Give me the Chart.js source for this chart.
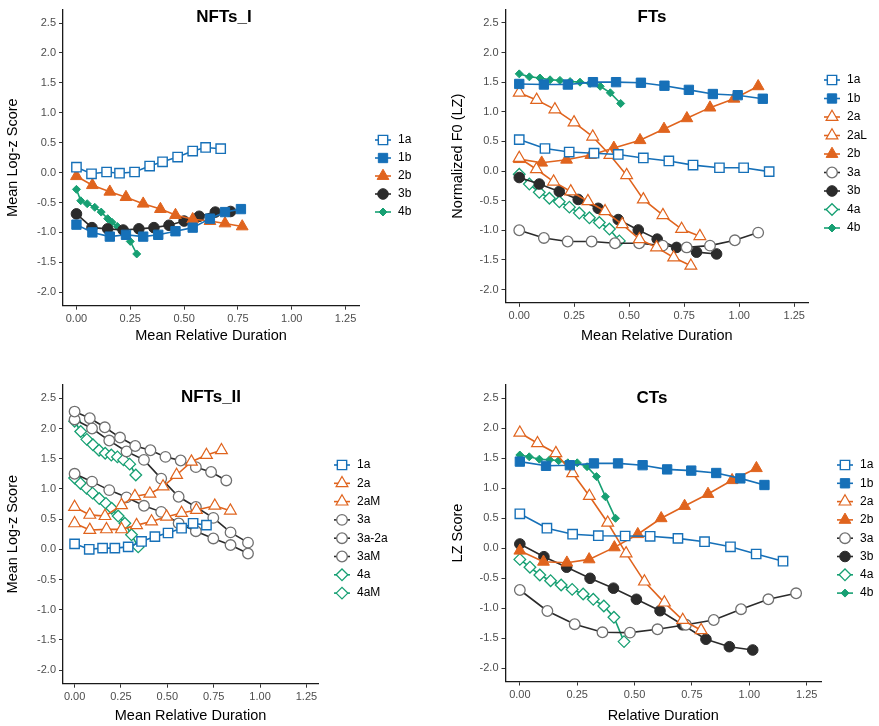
<!DOCTYPE html>
<html>
<head>
<meta charset="utf-8">
<script src="https://cdn.jsdelivr.net/npm/chart.js@4"></script>
<style>
  html, body { margin: 0; padding: 0; background: #fff; }
  #wrap { position: relative; width: 879px; height: 726px; }
  canvas { position: absolute; }
</style>
</head>
<body>
<div id="wrap">
  <canvas id="p1" width="440" height="363" style="left:0;top:0"></canvas>
  <canvas id="p2" width="439" height="363" style="left:440px;top:0"></canvas>
  <canvas id="p3" width="440" height="363" style="left:0;top:363px"></canvas>
  <canvas id="p4" width="439" height="363" style="left:440px;top:363px"></canvas>
</div>
<script>
// tick labels
const X_TICKS = [0, 0.25, 0.5, 0.75, 1.0, 1.25];
const Y_TICKS = [-2.0, -1.5, -1.0, -0.5, 0.0, 0.5, 1.0, 1.5, 2.0, 2.5];

// NFTs_I
const n1_1a_x = [0, 0.07, 0.14, 0.2, 0.27, 0.34, 0.4, 0.47, 0.54, 0.6, 0.67];
const n1_1a_y = [0.09, -0.02, 0.01, -0.01, 0.01, 0.11, 0.18, 0.26, 0.36, 0.42, 0.4];
const n1_1b_x = [0, 0.074, 0.155, 0.23, 0.31, 0.38, 0.46, 0.54, 0.62, 0.69, 0.764];
const n1_1b_y = [-0.87, -1.0, -1.07, -1.04, -1.07, -1.04, -0.98, -0.92, -0.77, -0.66, -0.61];
const n1_2b_x = [0, 0.074, 0.155, 0.23, 0.31, 0.39, 0.46, 0.54, 0.62, 0.69, 0.77];
const n1_2b_y = [-0.06, -0.21, -0.32, -0.41, -0.52, -0.61, -0.71, -0.78, -0.81, -0.85, -0.9];
const n1_3b_x = [0, 0.072, 0.145, 0.217, 0.29, 0.36, 0.43, 0.5, 0.57, 0.645, 0.716];
const n1_3b_y = [-0.69, -0.92, -0.94, -0.96, -0.94, -0.92, -0.88, -0.81, -0.73, -0.66, -0.65];
const n1_4b_x = [0, 0.02, 0.05, 0.085, 0.115, 0.145, 0.165, 0.19, 0.225, 0.25, 0.28];
const n1_4b_y = [-0.28, -0.47, -0.52, -0.58, -0.66, -0.77, -0.83, -0.9, -1.01, -1.15, -1.36];

// FTs
const f_1a_x = [0, 0.117, 0.227, 0.34, 0.45, 0.564, 0.68, 0.79, 0.91, 1.02, 1.136];
const f_1a_y = [0.53, 0.38, 0.32, 0.3, 0.28, 0.22, 0.17, 0.1, 0.055, 0.055, -0.01];
const f_1b_x = [0, 0.112, 0.221, 0.335, 0.44, 0.553, 0.66, 0.771, 0.88, 0.993, 1.107];
const f_1b_y = [1.47, 1.46, 1.46, 1.5, 1.5, 1.49, 1.44, 1.37, 1.3, 1.28, 1.22];
const f_2a_x = [0, 0.079, 0.162, 0.249, 0.334, 0.412, 0.488, 0.564, 0.653, 0.738, 0.821];
const f_2a_y = [1.32, 1.2, 1.04, 0.82, 0.58, 0.27, -0.07, -0.48, -0.745, -0.98, -1.1];
const f_2aL_x = [0, 0.078, 0.156, 0.234, 0.312, 0.39, 0.468, 0.546, 0.624, 0.702, 0.78];
const f_2aL_y = [0.22, 0.03, -0.18, -0.345, -0.51, -0.68, -0.9, -1.15, -1.29, -1.46, -1.6];
const f_2b_x = [0, 0.102, 0.215, 0.325, 0.43, 0.549, 0.658, 0.762, 0.867, 0.976, 1.086];
const f_2b_y = [0.2, 0.14, 0.19, 0.27, 0.39, 0.52, 0.71, 0.89, 1.07, 1.22, 1.43];
const f_3a_x = [0, 0.112, 0.22, 0.329, 0.435, 0.545, 0.652, 0.761, 0.867, 0.98, 1.086];
const f_3a_y = [-1.0, -1.13, -1.19, -1.19, -1.22, -1.22, -1.26, -1.29, -1.26, -1.17, -1.04];
const f_3b_x = [0, 0.091, 0.182, 0.268, 0.359, 0.45, 0.541, 0.627, 0.715, 0.806, 0.897];
const f_3b_y = [-0.11, -0.22, -0.345, -0.48, -0.63, -0.82, -0.995, -1.15, -1.29, -1.37, -1.4];
const f_4a_x = [0, 0.046, 0.091, 0.137, 0.182, 0.228, 0.273, 0.319, 0.364, 0.41, 0.455];
const f_4a_y = [-0.055, -0.22, -0.36, -0.46, -0.52, -0.61, -0.71, -0.79, -0.87, -0.98, -1.18];
const f_4b_x = [0, 0.046, 0.094, 0.14, 0.185, 0.231, 0.276, 0.322, 0.368, 0.414, 0.461];
const f_4b_y = [1.64, 1.59, 1.57, 1.54, 1.53, 1.51, 1.5, 1.48, 1.43, 1.32, 1.14];

// NFTs_II
const n2_1a_x = [0, 0.079, 0.151, 0.217, 0.289, 0.361, 0.433, 0.504, 0.577, 0.639, 0.711];
const n2_1a_y = [0.09, 0.0, 0.02, 0.02, 0.04, 0.13, 0.21, 0.27, 0.35, 0.43, 0.4];
const n2_2a_x = [0, 0.082, 0.164, 0.253, 0.325, 0.406, 0.477, 0.55, 0.63, 0.711, 0.792];
const n2_2a_y = [0.7, 0.57, 0.55, 0.73, 0.88, 0.92, 1.04, 1.23, 1.45, 1.56, 1.64];
const n2_2aM_x = [0, 0.082, 0.172, 0.253, 0.334, 0.415, 0.496, 0.577, 0.657, 0.756, 0.84];
const n2_2aM_y = [0.43, 0.32, 0.33, 0.33, 0.4, 0.46, 0.54, 0.6, 0.65, 0.72, 0.64];
const n2_3a_x = [0, 0.082, 0.163, 0.245, 0.327, 0.409, 0.49, 0.572, 0.654, 0.736, 0.818];
const n2_3a_y = [2.28, 2.17, 2.02, 1.85, 1.71, 1.64, 1.53, 1.47, 1.36, 1.28, 1.14];
const n2_3a2a_x = [0, 0.094, 0.187, 0.28, 0.374, 0.467, 0.561, 0.654, 0.748, 0.841, 0.935];
const n2_3a2a_y = [2.15, 2.0, 1.8, 1.62, 1.48, 1.17, 0.87, 0.7, 0.52, 0.28, 0.11];
const n2_3aM_x = [0, 0.094, 0.187, 0.28, 0.374, 0.467, 0.561, 0.654, 0.748, 0.841, 0.935];
const n2_3aM_y = [1.25, 1.12, 0.98, 0.86, 0.72, 0.62, 0.43, 0.3, 0.18, 0.07, -0.07];
const n2_4a_x = [0, 0.033, 0.066, 0.099, 0.132, 0.165, 0.198, 0.231, 0.264, 0.297, 0.33];
const n2_4a_y = [2.12, 1.95, 1.82, 1.73, 1.64, 1.59, 1.56, 1.53, 1.48, 1.41, 1.23];
const n2_4aM_x = [0, 0.032, 0.065, 0.097, 0.133, 0.169, 0.2, 0.235, 0.271, 0.307, 0.343];
const n2_4aM_y = [1.18, 1.09, 1.01, 0.93, 0.84, 0.76, 0.68, 0.55, 0.43, 0.24, 0.04];

// CTs
const c_1a_x = [0, 0.118, 0.23, 0.342, 0.459, 0.568, 0.689, 0.805, 0.918, 1.03, 1.147];
const c_1a_y = [0.57, 0.33, 0.23, 0.205, 0.2, 0.195, 0.16, 0.105, 0.02, -0.1, -0.22];
const c_1b_x = [0, 0.114, 0.218, 0.323, 0.428, 0.535, 0.642, 0.747, 0.856, 0.961, 1.066];
const c_1b_y = [1.44, 1.37, 1.38, 1.41, 1.41, 1.38, 1.31, 1.29, 1.25, 1.16, 1.05];
const c_2a_x = [0, 0.077, 0.157, 0.23, 0.303, 0.383, 0.463, 0.543, 0.63, 0.71, 0.79];
const c_2a_y = [1.92, 1.745, 1.58, 1.245, 0.867, 0.42, -0.09, -0.56, -0.91, -1.2, -1.37];
const c_2b_x = [0, 0.103, 0.205, 0.302, 0.412, 0.514, 0.616, 0.718, 0.82, 0.925, 1.031];
const c_2b_y = [-0.045, -0.23, -0.245, -0.19, 0.01, 0.23, 0.495, 0.7, 0.9, 1.13, 1.33];
const c_3a_x = [0, 0.12, 0.239, 0.36, 0.48, 0.6, 0.724, 0.845, 0.964, 1.083, 1.204];
const c_3a_y = [-0.7, -1.05, -1.27, -1.405, -1.41, -1.355, -1.28, -1.2, -1.02, -0.855, -0.755];
const c_3b_x = [0, 0.105, 0.204, 0.306, 0.408, 0.508, 0.611, 0.709, 0.811, 0.913, 1.015];
const c_3b_y = [0.067, -0.145, -0.32, -0.505, -0.67, -0.855, -1.045, -1.28, -1.52, -1.645, -1.7];
const c_4a_x = [0, 0.044, 0.087, 0.134, 0.18, 0.228, 0.276, 0.32, 0.366, 0.41, 0.454];
const c_4a_y = [-0.19, -0.32, -0.45, -0.545, -0.617, -0.69, -0.767, -0.855, -0.967, -1.155, -1.56];
const c_4b_x = [0, 0.041, 0.085, 0.13, 0.169, 0.209, 0.25, 0.293, 0.334, 0.373, 0.417];
const c_4b_y = [1.55, 1.52, 1.48, 1.47, 1.455, 1.42, 1.42, 1.355, 1.19, 0.855, 0.495];

const X_MIN = -0.0625;
const X_MAX = 1.3125;
const Y_MIN = -2.225;
const Y_MAX = 2.725;

const FONT_FAMILY = '"Liberation Sans", Arial, sans-serif';
const BLUE = '#1670b8';
const ORANGE = '#e0641e';
const GREEN = '#17a073';
const DARK = '#2b2b2b';
const OPEN_GREY = '#707070';

// marker look for each group, ggplot-like
const SHAPES = {
  a1: { pointStyle: 'rect', radius: 6.6, line: BLUE, fill: '#fff', edge: BLUE, edgeWidth: 1.4 },
  b1: { pointStyle: 'rect', radius: 6.6, line: BLUE, fill: BLUE, edge: BLUE, edgeWidth: 1 },
  a2: { pointStyle: 'triangle', radius: 6.8, line: ORANGE, fill: '#fff', edge: ORANGE, edgeWidth: 1.2 },
  b2: { pointStyle: 'triangle', radius: 6.8, line: ORANGE, fill: ORANGE, edge: ORANGE, edgeWidth: 1 },
  a3: { pointStyle: 'circle', radius: 5.3, line: DARK, fill: '#fff', edge: OPEN_GREY, edgeWidth: 1.3 },
  b3: { pointStyle: 'circle', radius: 5.3, line: DARK, fill: DARK, edge: DARK, edgeWidth: 1 },
  a4: { pointStyle: 'rectRot', radius: 5.8, line: GREEN, fill: '#fff', edge: GREEN, edgeWidth: 1.3 },
  b4: { pointStyle: 'rectRot', radius: 4, line: GREEN, fill: GREEN, edge: GREEN, edgeWidth: 1 },
};

const series = (label, shape, xs, ys) => {
  const s = SHAPES[shape];
  return {
    label,
    data: xs.map((x, i) => ({ x, y: ys[i] })),
    showLine: true,
    borderColor: s.line,
    borderWidth: 1.6,
    pointStyle: s.pointStyle,
    pointRadius: s.radius,
    pointHoverRadius: s.radius,
    pointBackgroundColor: s.fill,
    pointBorderColor: s.edge,
    pointBorderWidth: s.edgeWidth,
  };
};

const TICK_FONT = { family: FONT_FAMILY, size: 11 };
const AXIS_TITLE_FONT = { family: FONT_FAMILY, size: 14.5 };
const GRID = { display: true, drawOnChartArea: false, drawTicks: true, tickLength: 4, tickColor: '#333', tickWidth: 1 };
const BORDER = { display: true, color: '#1a1a1a', width: 1.3 };

// titles, and a ggplot style legend (line through the marker)
const panelDecor = {
  id: 'panelDecor',
  afterDraw(chart, args, opts) {
    const { ctx } = chart;
    ctx.save();
    ctx.font = `bold 17px ${FONT_FAMILY}`;
    ctx.fillStyle = '#000';
    ctx.textAlign = 'center';
    ctx.textBaseline = 'middle';
    ctx.fillText(opts.title, opts.titleX, opts.titleY);

    ctx.font = `12px ${FONT_FAMILY}`;
    ctx.textAlign = 'left';
    chart.data.datasets.forEach((ds, i) => {
      const y = opts.legendY + i * opts.legendStep;
      ctx.strokeStyle = ds.borderColor;
      ctx.lineWidth = ds.borderWidth;
      ctx.beginPath();
      ctx.moveTo(opts.legendX - 8, y);
      ctx.lineTo(opts.legendX + 8, y);
      ctx.stroke();
      ctx.fillStyle = ds.pointBackgroundColor;
      ctx.strokeStyle = ds.pointBorderColor;
      ctx.lineWidth = ds.pointBorderWidth;
      Chart.helpers.drawPoint(ctx, {
        pointStyle: ds.pointStyle,
        radius: ds.pointRadius,
        borderWidth: ds.pointBorderWidth,
        rotation: 0,
      }, opts.legendX, y);
      ctx.fillStyle = '#000';
      ctx.fillText(ds.label, opts.legendX + 15, y);
    });
    ctx.restore();
  },
};

const renderPanel = (elementId, datasets, cfg) => {
  const SCALES = {
    x: {
      type: 'linear',
      min: X_MIN,
      max: X_MAX,
      afterBuildTicks: (axis) => { axis.ticks = X_TICKS.map((value) => ({ value })); },
      afterFit: (axis) => { axis.height = cfg.xHeight; },
      grid: GRID,
      border: BORDER,
      ticks: {
        font: TICK_FONT,
        color: '#4d4d4d',
        padding: 3,
        maxRotation: 0,
        autoSkip: false,
        callback: (v) => Number(v).toFixed(2),
      },
      title: { display: true, text: cfg.xTitle, font: AXIS_TITLE_FONT, color: '#000', padding: 0 },
    },
    y: {
      type: 'linear',
      min: Y_MIN,
      max: Y_MAX,
      afterBuildTicks: (axis) => { axis.ticks = Y_TICKS.map((value) => ({ value })); },
      afterFit: (axis) => { axis.width = cfg.yWidth; },
      grid: GRID,
      border: BORDER,
      ticks: {
        font: TICK_FONT,
        color: '#4d4d4d',
        padding: 3,
        autoSkip: false,
        callback: (v) => Number(v).toFixed(1),
      },
      title: {
        display: true,
        text: cfg.yTitle,
        font: AXIS_TITLE_FONT,
        color: '#000',
        padding: { top: cfg.yTitlePad, bottom: 0 },
      },
    },
  };

  return new Chart(document.getElementById(elementId), {
    type: 'scatter',
    data: { datasets },
    plugins: [panelDecor],
    options: {
      responsive: false,
      animation: false,
      events: [],
      layout: { padding: { left: 0, right: cfg.padRight, top: cfg.padTop, bottom: cfg.padBottom } },
      scales: SCALES,
      plugins: {
        legend: { display: false },
        tooltip: { enabled: false },
        panelDecor: {
          title: cfg.title,
          titleX: cfg.titleX,
          titleY: cfg.titleY,
          legendX: cfg.legendX,
          legendY: cfg.legendY,
          legendStep: cfg.legendStep,
        },
      },
    },
  });
};

renderPanel('p1', [
  series('1a', 'a1', n1_1a_x, n1_1a_y),
  series('1b', 'b1', n1_1b_x, n1_1b_y),
  series('2b', 'b2', n1_2b_x, n1_2b_y),
  series('3b', 'b3', n1_3b_x, n1_3b_y),
  series('4b', 'b4', n1_4b_x, n1_4b_y),
], {
  title: 'NFTs_I', titleX: 224, titleY: 17,
  xTitle: 'Mean Relative Duration', yTitle: 'Mean Log-z Score',
  yWidth: 63, yTitlePad: 4.3, xHeight: 39,
  padRight: 81, padTop: 4.3, padBottom: 18.3,
  legendX: 383, legendY: 140, legendStep: 18,
});

renderPanel('p2', [
  series('1a', 'a1', f_1a_x, f_1a_y),
  series('1b', 'b1', f_1b_x, f_1b_y),
  series('2a', 'a2', f_2a_x, f_2a_y),
  series('2aL', 'a2', f_2aL_x, f_2aL_y),
  series('2b', 'b2', f_2b_x, f_2b_y),
  series('3a', 'a3', f_3a_x, f_3a_y),
  series('3b', 'b3', f_3b_x, f_3b_y),
  series('4a', 'a4', f_4a_x, f_4a_y),
  series('4b', 'b4', f_4b_x, f_4b_y),
], {
  title: 'FTs', titleX: 212, titleY: 17,
  xTitle: 'Mean Relative Duration', yTitle: 'Normalized F0 (LZ)',
  yWidth: 65.5, yTitlePad: 9.3, xHeight: 41.9,
  padRight: 71, padTop: 5.8, padBottom: 18.3,
  legendX: 392, legendY: 80, legendStep: 18.5,
});

renderPanel('p3', [
  series('1a', 'a1', n2_1a_x, n2_1a_y),
  series('2a', 'a2', n2_2a_x, n2_2a_y),
  series('2aM', 'a2', n2_2aM_x, n2_2aM_y),
  series('3a', 'a3', n2_3a_x, n2_3a_y),
  series('3a-2a', 'a3', n2_3a2a_x, n2_3a2a_y),
  series('3aM', 'a3', n2_3aM_x, n2_3aM_y),
  series('4a', 'a4', n2_4a_x, n2_4a_y),
  series('4aM', 'a4', n2_4aM_x, n2_4aM_y),
], {
  title: 'NFTs_II', titleX: 211, titleY: 34,
  xTitle: 'Mean Relative Duration', yTitle: 'Mean Log-z Score',
  yWidth: 63, yTitlePad: 4.3, xHeight: 41,
  padRight: 122, padTop: 21.7, padBottom: 1.3,
  legendX: 342, legendY: 102, legendStep: 18.3,
});

renderPanel('p4', [
  series('1a', 'a1', c_1a_x, c_1a_y),
  series('1b', 'b1', c_1b_x, c_1b_y),
  series('2a', 'a2', c_2a_x, c_2a_y),
  series('2b', 'b2', c_2b_x, c_2b_y),
  series('3a', 'a3', c_3a_x, c_3a_y),
  series('3b', 'b3', c_3b_x, c_3b_y),
  series('4a', 'a4', c_4a_x, c_4a_y),
  series('4b', 'b4', c_4b_x, c_4b_y),
], {
  title: 'CTs', titleX: 212, titleY: 35,
  xTitle: 'Relative Duration', yTitle: 'LZ Score',
  yWidth: 65.5, yTitlePad: 9.3, xHeight: 43.2,
  padRight: 58, padTop: 21.5, padBottom: 1.3,
  legendX: 405, legendY: 102, legendStep: 18.3,
});
</script>
</body>
</html>
